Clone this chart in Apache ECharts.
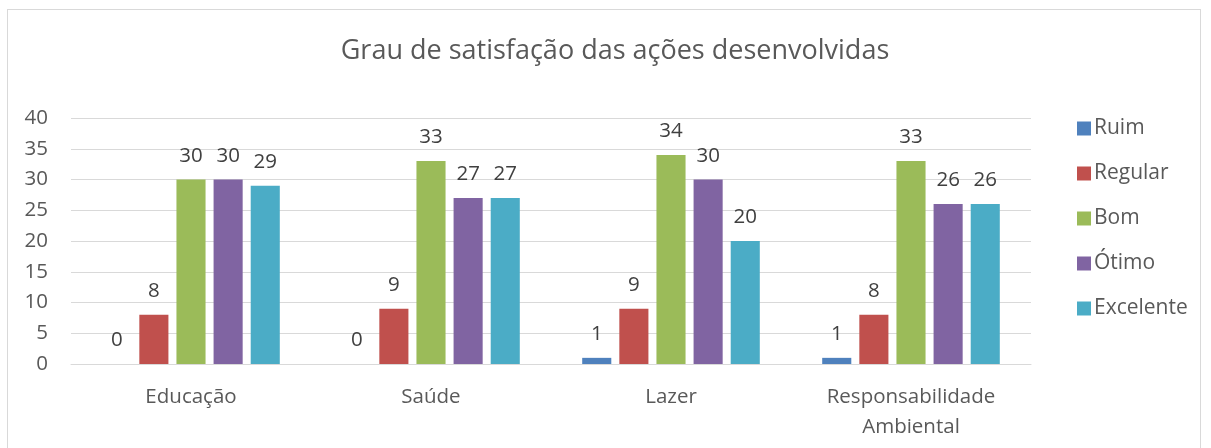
<!DOCTYPE html>
<html>
<head>
<meta charset="utf-8">
<script src="https://cdn.jsdelivr.net/npm/echarts@6/dist/echarts.min.js"></script>
<style>
  html, body { margin: 0; padding: 0; background: #fff; }
  #frame { position: absolute; left: 7px; top: 9px; width: 1194px; height: 450px; border: 1px solid #d9d9d9; box-sizing: border-box; }
  #main { width: 1211px; height: 448px; }
</style>
</head>
<body>
<div id="frame"></div>
<div id="main"></div>
<script>
var categories = ['Educação', 'Saúde', 'Lazer', 'Responsabilidade\nAmbiental']
var seriesNames = ['Ruim', 'Regular', 'Bom', 'Ótimo', 'Excelente']
var ruim = [0, 0, 1, 1]
var regular = [8, 9, 9, 8]
var bom = [30, 33, 34, 33]
var otimo = [30, 27, 30, 26]
var excelente = [29, 27, 20, 26]
var colors = ['#4f81bd', '#c0504d', '#9bbb59', '#8064a2', '#4bacc6']

var font = '"Open Sans", "Liberation Sans", sans-serif'
var values = [ruim, regular, bom, otimo, excelente]

var myChart = echarts.init(document.getElementById('main'))
myChart.setOption({
    animation: false,
    color: colors,
    title: {
        text: 'Grau de satisfação das ações desenvolvidas',
        left: 610,
        textAlign: 'center',
        top: 33,
        textStyle: { fontFamily: font, fontSize: 27, fontWeight: 'normal', color: '#595959' }
    },
    legend: {
        orient: 'vertical',
        left: 1072,
        top: 113,
        itemWidth: 14,
        itemHeight: 14,
        itemGap: 24,
        icon: 'rect',
        textStyle: { fontFamily: font, fontSize: 21, color: '#595959', padding: [0, 0, 0, -2] },
        data: seriesNames
    },
    grid: { left: 71, right: 180, top: 118, bottom: 84 },
    xAxis: {
        type: 'category',
        data: categories,
        axisTick: { show: false },
        axisLine: { lineStyle: { color: '#d9d9d9', width: 1 } },
        axisLabel: { fontFamily: font, fontSize: 20.5, color: '#595959', margin: 18, lineHeight: 30 }
    },
    yAxis: {
        type: 'value',
        min: 0,
        max: 40,
        interval: 5,
        axisLine: { show: false },
        axisTick: { show: false },
        splitLine: { lineStyle: { color: '#d9d9d9', width: 1 } },
        axisLabel: { fontFamily: font, fontSize: 20.5, color: '#595959', margin: 23 }
    },
    series: seriesNames.map(function (name, i) {
        return {
            name: name,
            type: 'bar',
            data: values[i],
            barGap: '27.6%',
            barCategoryGap: '26%',
            label: {
                show: true,
                position: 'top',
                distance: 13,
                fontFamily: font,
                fontSize: 20.5,
                color: '#404040'
            }
        }
    })
})
</script>
</body>
</html>
